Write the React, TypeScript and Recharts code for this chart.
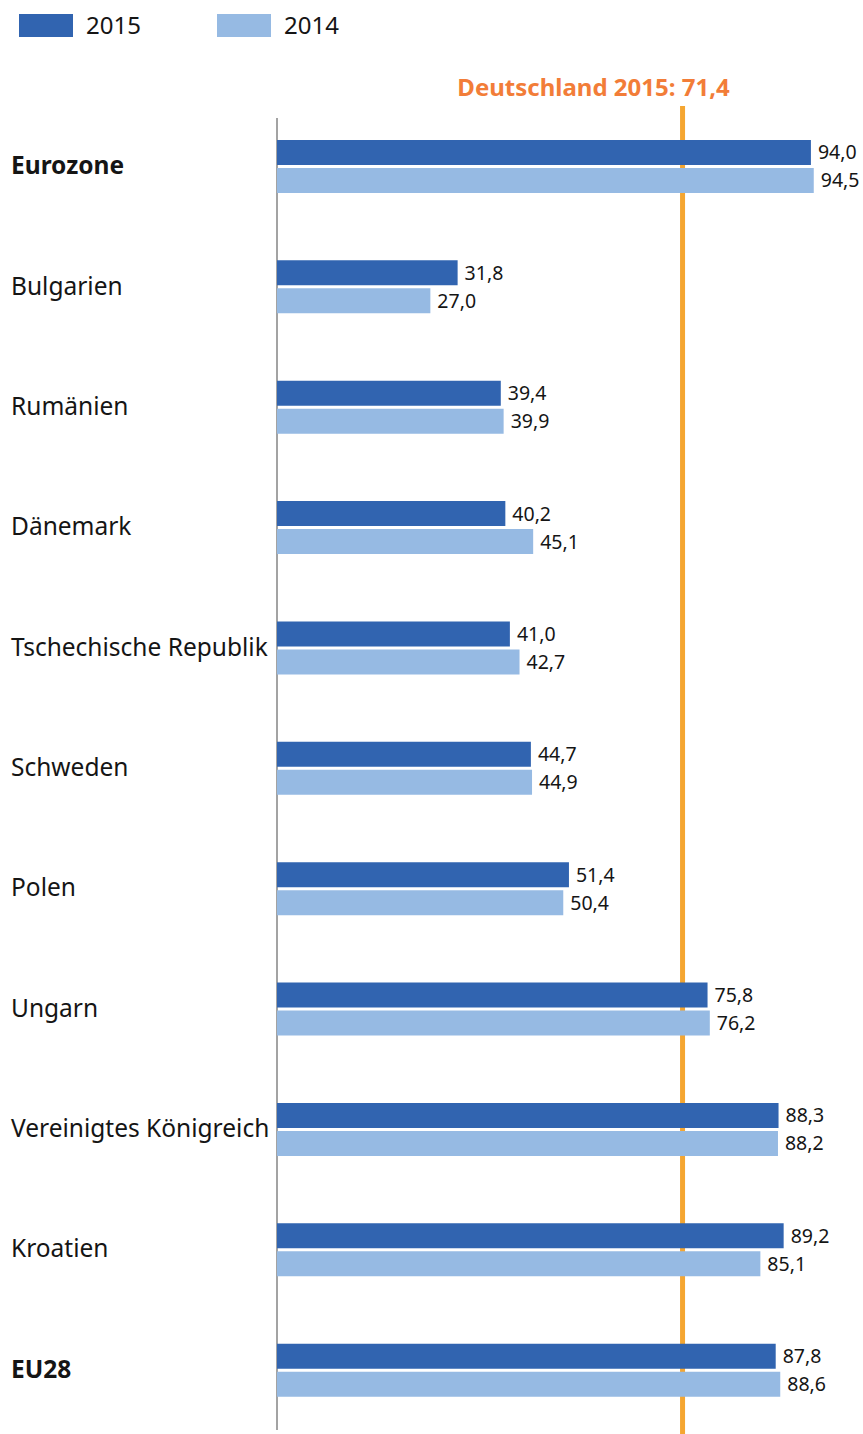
import { BarChart, Bar, XAxis, YAxis, ReferenceLine, LabelList } from 'recharts'

const categories = ['Eurozone', 'Bulgarien', 'Rumänien', 'Dänemark', 'Tschechische Republik', 'Schweden', 'Polen', 'Ungarn', 'Vereinigtes Königreich', 'Kroatien', 'EU28']
const values2015 = [94.0, 31.8, 39.4, 40.2, 41.0, 44.7, 51.4, 75.8, 88.3, 89.2, 87.8]
const values2014 = [94.5, 27.0, 39.9, 45.1, 42.7, 44.9, 50.4, 76.2, 88.2, 85.1, 88.6]
const boldCategories = ['Eurozone', 'EU28']
const germany2015 = 71.4

const DARK = '#3164b0'
const LIGHT = '#96bae3'
const FONT = '"Noto Sans", sans-serif'

const data = categories.map((name, i) => ({ name, y2015: values2015[i], y2014: values2014[i] }))

const fmt = (v: any) => Number(v).toFixed(1).replace('.', ',')

function CategoryTick({ y, payload }: any) {
  const bold = boldCategories.includes(payload.value)
  return (
    <text x={11} y={y} dy={8} fontSize={24.5} fontWeight={bold ? 700 : 400} fill="#151515" fontFamily={FONT}>
      {payload.value}
    </text>
  )
}

// vertical line with its ends trimmed/extended
function vLine(top: number, bottom: number, stroke: string, width: number) {
  return (p: any) => {
    const yTop = Math.min(p.y1, p.y2)
    const yBottom = Math.max(p.y1, p.y2)
    return <line x1={p.x1} x2={p.x2} y1={yTop + top} y2={yBottom + bottom} stroke={stroke} strokeWidth={width} />
  }
}

function LegendBox() {
  const items = [
    { label: '2015', color: DARK, x: 19 },
    { label: '2014', color: LIGHT, x: 217 },
  ]
  return (
    <div style={{ position: 'absolute', left: 0, top: 0, width: 400, height: 50, fontFamily: FONT }}>
      {items.map(it => (
        <div key={it.label}>
          <div style={{ position: 'absolute', left: it.x, top: 14, width: 54, height: 23, background: it.color }} />
          <div style={{ position: 'absolute', left: it.x + 67, top: 8, fontSize: 24, lineHeight: '34px', color: '#151515' }}>{it.label}</div>
        </div>
      ))}
    </div>
  )
}

export default function App() {
  return (
    <div style={{ position: 'absolute', left: 0, top: 0, width: 863, height: 1434, background: '#fff' }}>
      <BarChart width={863} height={1434} data={data} layout="vertical" margin={{ top: 106, right: 18, bottom: 4, left: 0 }} barSize={25} barGap={3}>
        <XAxis type="number" domain={[0, 100]} hide />
        <YAxis type="category" dataKey="name" width={277} axisLine={false} tickLine={false} tick={<CategoryTick />} />
        <ReferenceLine x={0} zIndex={-1} ifOverflow="visible" shape={vLine(12, 0, '#a3a3a3', 2)} />
        <ReferenceLine
          x={germany2015}
          zIndex={-1}
          ifOverflow="visible"
          shape={vLine(0, 4, '#f5a631', 5)}
          label={{ value: 'Deutschland 2015: 71,4', position: 'top', offset: 10, dx: -89, fill: '#f27d38', fontSize: 24, fontWeight: 700, fontFamily: FONT }}
        />
        <Bar dataKey="y2015" fill={DARK} isAnimationActive={false}>
          <LabelList dataKey="y2015" position="right" offset={7} formatter={fmt} fontSize={19.5} fill="#151515" fontFamily={FONT} />
        </Bar>
        <Bar dataKey="y2014" fill={LIGHT} isAnimationActive={false}>
          <LabelList dataKey="y2014" position="right" offset={7} formatter={fmt} fontSize={19.5} fill="#151515" fontFamily={FONT} />
        </Bar>
      </BarChart>
      <LegendBox />
    </div>
  )
}
